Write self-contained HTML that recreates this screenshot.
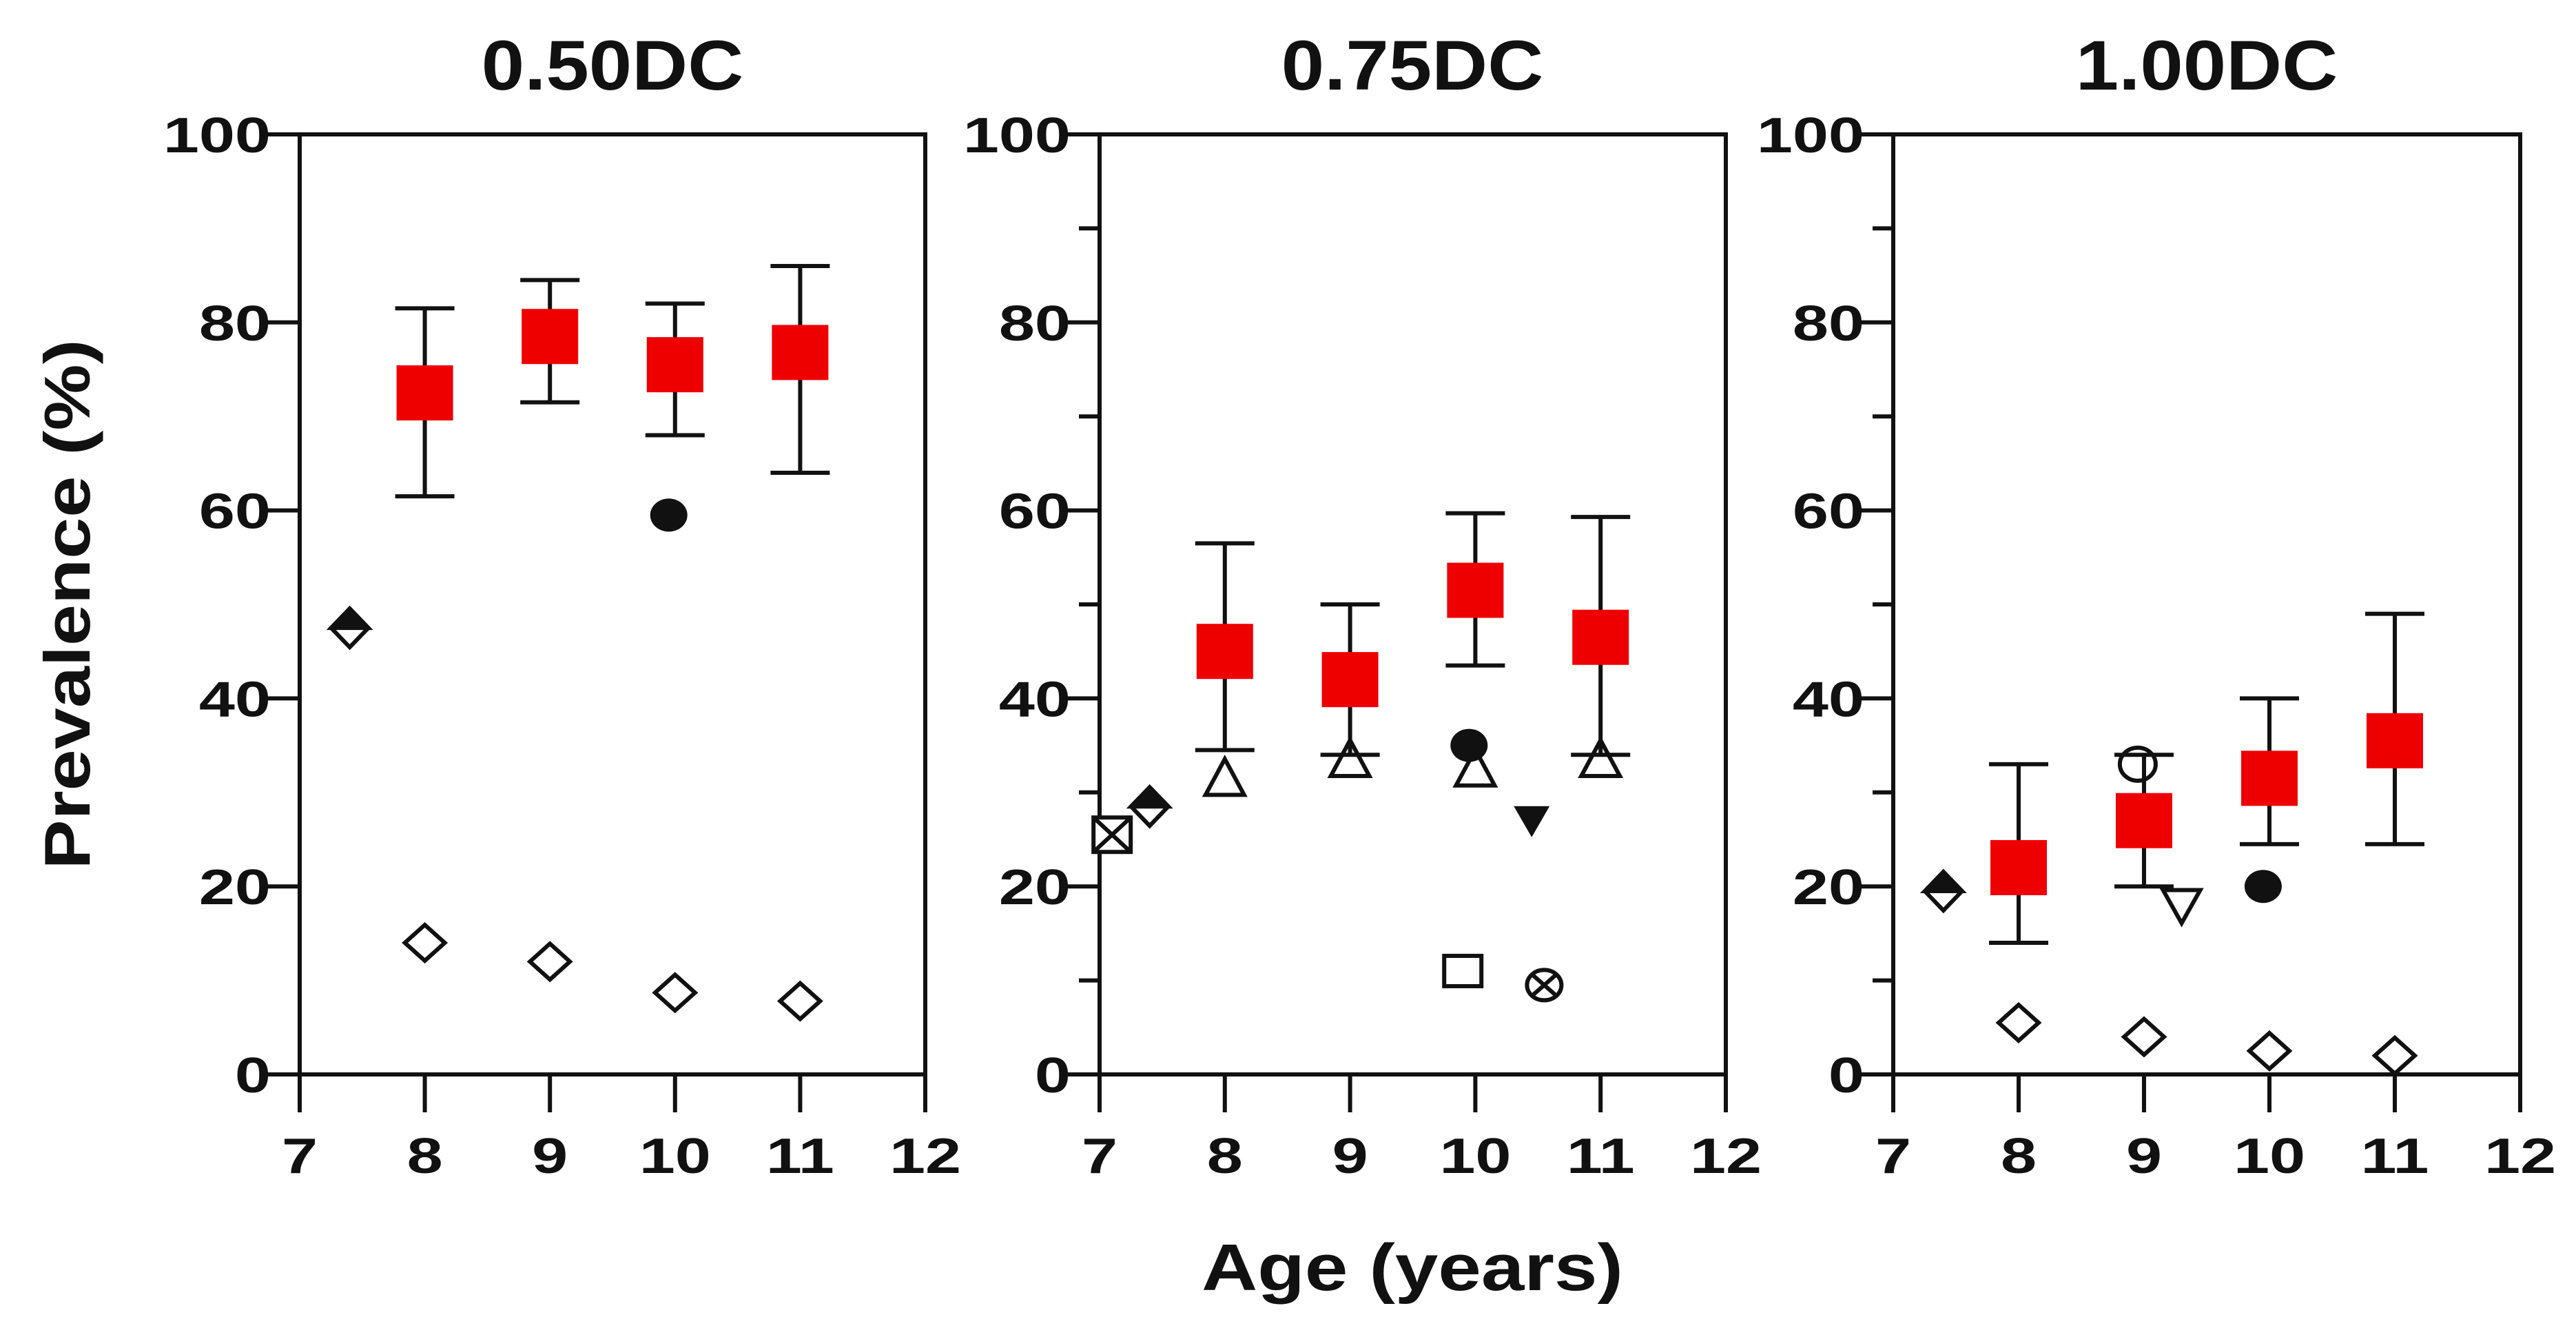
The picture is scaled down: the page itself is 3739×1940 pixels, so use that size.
<!DOCTYPE html>
<html><head><meta charset="utf-8"><style>
html,body{margin:0;padding:0;background:#fff;width:3739px;height:1940px;overflow:hidden}
svg text{font-family:"Liberation Sans",Arial,sans-serif;font-weight:bold;fill:#111}
</style></head><body>
<svg id="chart" width="3739" height="1940" viewBox="0 0 3739 1940" xmlns="http://www.w3.org/2000/svg">
<text x="0" y="0" transform="translate(130,877) rotate(-90) scale(1.15,1)" text-anchor="middle" font-size="94">Prevalence (%)</text>
<text x="0" y="0" transform="translate(2050,1872) scale(1.17,1)" text-anchor="middle" font-size="96">Age (years)</text>
</svg>
<script>
const panelTitles = ["0.50DC","0.75DC","1.00DC"];
const ages = [8,9,10,11];
const meanVals = [[72.5,78.5,75.5,76.8],[45,42,51.5,46.5],[22,27,31.5,35.5]];
const errLow = [[61.5,71.5,68,64],[34.5,34,43.5,34],[14,20,24.5,24.5]];
const errHigh = [[81.5,84.5,82,86],[56.5,50,59.7,59.3],[33,34,40,49]];
const diamondVals = [[14,12,8.7,7.8],[null,null,null,null],[5.5,4,2.5,2]];
const triangleVals = [[null,null,null,null],[31.5,33.5,32.5,33.5],[null,null,null,null]];
const extraPanel = [0,0,1,1,1,1,1,1,2,2,2,2];
const extraAge =   [7.4,9.95,7.1,7.4,9.95,10.45,9.9,10.55,7.4,8.95,9.3,9.95];
const extraVal =   [47.5,59.5,25.5,28.5,35,27,11,9.5,19.5,33,18,20];
const extraType =  ["halfdiamond","fcircle","boxx","halfdiamond","fcircle","fdowntri","osquare","circx","halfdiamond","ocircle","odowntri","fcircle"];
const yTicks = [0,20,40,60,80,100];
const xTicks = [7,8,9,10,11,12];
const minorTicks = [10,30,50,70,90];

const NS="http://www.w3.org/2000/svg";
const svg=document.getElementById('chart');
const panels=[{x0:435,x1:1343,minor:false,cx:889},{x0:1596,x1:2505,minor:true,cx:2050},{x0:2748,x1:3658,minor:true,cx:3203}];
const Y0=1559,Y1=195;
function mk(tag,attrs,parent){const e=document.createElementNS(NS,tag);for(const k in attrs)e.setAttribute(k,attrs[k]);(parent||svg).appendChild(e);return e;}
function txt(parent,x,y,s,size,anchor,sx){const t=mk('text',{x:0,y:0,'text-anchor':anchor,'font-size':size,transform:`translate(${x},${y}) scale(${sx},1)`},parent);t.textContent=s;return t;}
const LW=6;
panels.forEach((p,pi)=>{
  const g=mk('g',{});
  
  
  const xs=v=>p.x0+(v-7)/5*(p.x1-p.x0);
  const ys=v=>Y0+(v/100)*(Y1-Y0);
  const t=txt(g,p.cx,130,panelTitles[pi],102,'middle',1.1);
  
  
  const frame=mk('rect',{x:p.x0,y:Y1,width:p.x1-p.x0,height:Y0-Y1,fill:'none',stroke:'#111','stroke-width':LW},g);
  
  
  yTicks.forEach(v=>{
    mk('line',{x1:p.x0-55,x2:p.x0,y1:ys(v),y2:ys(v),stroke:'#111','stroke-width':LW},g);
    const l=txt(g,p.x0-42,ys(v)+26,String(v),72,'end',1.3);
    
    
  });
  if(p.minor) minorTicks.forEach(v=>mk('line',{x1:p.x0-30,x2:p.x0,y1:ys(v),y2:ys(v),stroke:'#111','stroke-width':LW},g));
  xTicks.forEach(v=>{
    mk('line',{x1:xs(v),x2:xs(v),y1:Y0,y2:Y0+55,stroke:'#111','stroke-width':LW},g);
    const l=txt(g,xs(v),Y0+143,String(v),72,'middle',1.3);
    
    
  });
  ages.forEach((a,i)=>{
    const v=diamondVals[pi][i]; if(v==null)return;
    const x=xs(a),y=ys(v);
    const d=mk('polygon',{points:`${x-29},${y} ${x},${y-26} ${x+29},${y} ${x},${y+26}`,fill:'#fff',stroke:'#111','stroke-width':LW},g);
    
    
  });
  ages.forEach((a,i)=>{
    const v=triangleVals[pi][i]; if(v==null)return;
    const x=xs(a),y=ys(v);
    const d=mk('polygon',{points:`${x-28},${y+24} ${x},${y-28} ${x+28},${y+24}`,fill:'#fff',stroke:'#111','stroke-width':LW},g);
    
    
  });
  extraPanel.forEach((pp,i)=>{
    if(pp!==pi)return;
    const x=xs(extraAge[i]),y=ys(extraVal[i]),ty=extraType[i];
    const eg=mk('g',{},g);
    
    
    const s={stroke:'#111','stroke-width':LW};
    if(ty==='halfdiamond'){
      mk('polygon',Object.assign({points:`${x-27},${y} ${x},${y-28} ${x+27},${y} ${x},${y+28}`,fill:'#fff'},s),eg);
      mk('polygon',{points:`${x-27},${y} ${x},${y-28} ${x+27},${y}`,fill:'#111',stroke:'#111','stroke-width':LW},eg);
    }else if(ty==='fcircle'){
      mk('ellipse',{cx:x,cy:y,rx:27,ry:24,fill:'#111'},eg);
    }else if(ty==='ocircle'){
      mk('ellipse',Object.assign({cx:x,cy:y,rx:26,ry:24,fill:'none'},s),eg);
    }else if(ty==='boxx'){
      mk('rect',Object.assign({x:x-27,y:y-25,width:54,height:50,fill:'#fff'},s),eg);
      mk('path',Object.assign({d:`M${x-27},${y-25}L${x+27},${y+25}M${x+27},${y-25}L${x-27},${y+25}`},s),eg);
    }else if(ty==='osquare'){
      mk('rect',Object.assign({x:x-27,y:y-22,width:54,height:44,fill:'#fff'},s),eg);
    }else if(ty==='circx'){
      mk('ellipse',Object.assign({cx:x,cy:y,rx:25,ry:22,fill:'#fff'},s),eg);
      mk('path',Object.assign({d:`M${x-16},${y-14}L${x+16},${y+14}M${x+16},${y-14}L${x-16},${y+14}`},s),eg);
    }else if(ty==='fdowntri'){
      mk('polygon',{points:`${x-26},${y-21} ${x+26},${y-21} ${x},${y+24}`,fill:'#111'},eg);
    }else if(ty==='odowntri'){
      mk('polygon',Object.assign({points:`${x-27},${y-22} ${x+27},${y-22} ${x},${y+26}`,fill:'#fff'},s),eg);
    }
  });
  ages.forEach((a,i)=>{
    const x=xs(a);
    const eb=mk('path',{d:`M${x-43},${ys(errHigh[pi][i])}H${x+43}M${x},${ys(errHigh[pi][i])}V${ys(errLow[pi][i])}M${x-43},${ys(errLow[pi][i])}H${x+43}`,stroke:'#111','stroke-width':LW,fill:'none'},g);
    
    
    const y=ys(meanVals[pi][i]);
    const r=mk('rect',{x:x-41,y:y-40,width:82,height:80,fill:'#ee0000'},g);
    
    
  });
});
</script>
</body></html>
